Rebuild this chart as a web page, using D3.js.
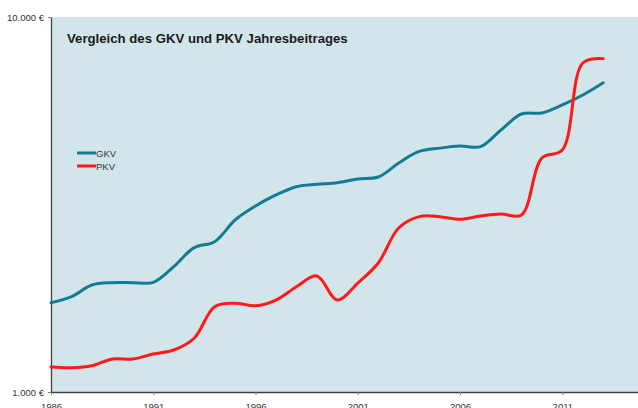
<!DOCTYPE html>
<html>
<head>
<meta charset="utf-8">
<script src="https://cdn.jsdelivr.net/npm/d3@7"></script>
<style>
  body { margin: 0; background: #fff; }
  text { font-family: "Liberation Sans", Arial, sans-serif; }
</style>
</head>
<body>
<div id="chart"></div>
<script>
// Data
var years = d3.range(1986, 2014);
var gkv = [1730, 1796, 1929, 1957, 1957, 1961, 2159, 2426, 2517, 2875,
           3133, 3353, 3528, 3580, 3615, 3698, 3744, 4080, 4380, 4470,
           4529, 4510, 4996, 5512, 5549, 5826, 6194, 6680];
var pkv = [1166, 1161, 1175, 1225, 1225, 1263, 1294, 1391, 1689, 1724,
           1699, 1759, 1909, 2039, 1759, 1952, 2208, 2737, 2935, 2935,
           2887, 2947, 2984, 2965, 4207, 4419, 7540, 7742];
var xTicks = [1986, 1991, 1996, 2001, 2006, 2011];
var yTicks = [1000, 10000];
var seriesNames = ["GKV", "PKV"];

// SVG dimensions
var svgWidth = 638;
var svgHeight = 408;

var margin = { top: 17, right: 0, bottom: 16, left: 51 };
var width = svgWidth - margin.left - margin.right;
var height = svgHeight - margin.top - margin.bottom;

var svg = d3.select("#chart")
  .append("svg")
  .attr("width", svgWidth)
  .attr("height", svgHeight);

var chartGroup = svg.append("g")
  .attr("transform", `translate(${margin.left}, ${margin.top})`);

// Plot background
chartGroup.append("rect")
  .attr("width", width)
  .attr("height", height)
  .attr("fill", "#d2e5ea");

var xScale = d3.scaleLinear()
  .domain([1986, 2014.7])
  .range([0, width]);

var yScale = d3.scaleLog()
  .domain([1000, 10000])
  .range([height, 0]);

var euro = d3.formatLocale({ decimal: ",", thousands: ".", grouping: [3], currency: ["", " €"] });
var fmt = euro.format(",.0f");

// Axes
var bottomAxis = d3.axisBottom(xScale)
  .tickValues(xTicks)
  .tickFormat(d3.format("d"))
  .tickSizeInner(3)
  .tickSizeOuter(0)
  .tickPadding(8);

var leftAxis = d3.axisLeft(yScale)
  .tickValues(yTicks)
  .tickFormat(d => fmt(d) + " €")
  .tickSizeInner(3)
  .tickSizeOuter(0)
  .tickPadding(4);

var xAxisG = chartGroup.append("g")
  .attr("transform", `translate(0, ${height})`)
  .call(bottomAxis);

var yAxisG = chartGroup.append("g")
  .call(leftAxis);

[xAxisG, yAxisG].forEach(function(g) {
  g.select(".domain").attr("stroke", "#404040").attr("stroke-width", 1.3);
  g.selectAll(".tick line").attr("stroke", "#808080");
  g.selectAll(".tick text")
    .attr("fill", "#333")
    .attr("font-size", "9.5px")
    .attr("font-family", "Liberation Sans, Arial, sans-serif");
});

// Lines
var line = d3.line()
  .x((d, i) => xScale(years[i]))
  .y(d => yScale(d))
  .curve(d3.curveCatmullRom.alpha(0.5));

var colors = ["#157a93", "#ff1a1a"];

chartGroup.append("path")
  .datum(gkv)
  .attr("d", line)
  .attr("fill", "none")
  .attr("stroke", colors[0])
  .attr("stroke-width", 3)
  .attr("stroke-linecap", "round");

chartGroup.append("path")
  .datum(pkv)
  .attr("d", line)
  .attr("fill", "none")
  .attr("stroke", colors[1])
  .attr("stroke-width", 3)
  .attr("stroke-linecap", "round");

// Title
svg.append("text")
  .attr("x", 67)
  .attr("y", 43)
  .attr("font-size", "13.2px")
  .attr("font-weight", "bold")
  .attr("fill", "#1a1a1a")
  .text("Vergleich des GKV und PKV Jahresbeitrages");

// Legend
var legend = svg.append("g")
  .attr("transform", "translate(77, 153)");

seriesNames.forEach(function(name, i) {
  legend.append("line")
    .attr("x1", 0).attr("x2", 19)
    .attr("y1", i * 13).attr("y2", i * 13)
    .attr("stroke", colors[i])
    .attr("stroke-width", 3);
  legend.append("text")
    .attr("x", 19)
    .attr("y", i * 13 + 3.5)
    .attr("font-size", "9.5px")
    .attr("fill", "#333")
    .text(name);
});
</script>
</body>
</html>
